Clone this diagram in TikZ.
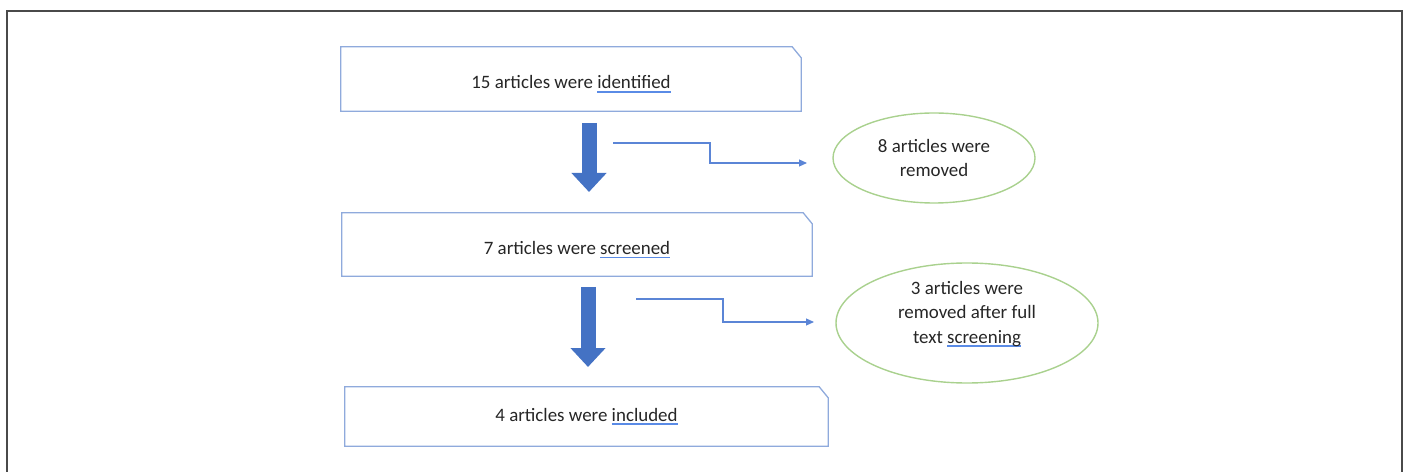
\documentclass[tikz,border=0pt]{standalone}
\usepackage{fontspec}
\setmainfont{Carlito}
\usetikzlibrary{arrows.meta,shapes.geometric}
\definecolor{boxblue}{HTML}{8FAADC}
\definecolor{arrblue}{HTML}{4472C4}
\definecolor{linblue}{HTML}{5B85D6}
\definecolor{elgreen}{HTML}{A9D18E}
\definecolor{ulblue}{HTML}{5A8BE6}
\definecolor{txt}{HTML}{262626}
\definecolor{frame}{HTML}{4A4A4A}
\newcommand{\blueul}[1]{\setbox0\hbox{#1}\rlap{\textcolor{ulblue}{\rule[-3.8pt]{\wd0}{1.6pt}}}\box0}
\tikzset{
  box/.style={draw=none, inner sep=0pt, text=txt, font=\fontsize{19}{23}\selectfont},
  lowtext/.style={text height=20pt, text depth=0pt},
  boxline/.style={draw=boxblue, line width=1.3bp},
  bigarrow/.style={draw=arrblue, line width=15bp, -{Triangle[width=34bp,length=19bp]}, arrblue},
  elbow/.style={draw=linblue, line width=1.1bp, -{Triangle[width=7bp,length=8bp]}},
  oval/.style={ellipse, draw=elgreen, line width=1.4bp, inner sep=0pt},
  ovaltext/.style={text=txt, align=center, font=\fontsize{19}{24.5}\selectfont}
}
\begin{document}
\begin{tikzpicture}[x=1bp,y=-1bp]
\useasboundingbox (0,0) rectangle (1407,472);
% outer frame
\draw[frame, line width=1.6bp] (7,472) -- (7,11) -- (1402,11) -- (1402,472);

% boxes
\node[box, lowtext, minimum width=460bp, minimum height=64bp] (b1) at (571,79) {15 articles were \blueul{identified}};
\node[box, lowtext, minimum width=470bp, minimum height=63bp] (b2) at (577,244.5) {7 articles were \blueul{screened}};
\node[box, minimum width=483bp, minimum height=59bp] (b3) at (586.5,416.5) {4 articles were \blueul{included}};
\foreach \b in {b1,b2,b3}{
  \draw[boxline] (\b.south west) -- (\b.north west) -- ([xshift=-9bp]\b.north east) -- ([yshift=-11bp]\b.north east) -- (\b.south east) -- cycle;
}

% ellipses
\node[oval, minimum width=202bp, minimum height=90bp,
      label={[ovaltext]center:{8 articles were\\removed}}] (r1) at (934,158) {};
\node[oval, minimum width=262bp, minimum height=120bp,
      label={[ovaltext,yshift=9bp]center:{3 articles were\\removed after full\\text \blueul{screening}}}] (r2) at (967,323) {};

% big down arrows
\coordinate (a1s) at (589,123);
\coordinate (a1e) at (589,192);
\coordinate (a2s) at (588,287);
\coordinate (a2e) at (588,367);
\draw[bigarrow] (a1s) -- (a1e);
\draw[bigarrow] (a2s) -- (a2e);

% elbow connectors
\coordinate (e1s) at (613,143);
\coordinate (e1e) at (807,163);
\coordinate (e2s) at (636,299);
\coordinate (e2e) at (814,322);
\draw[elbow] (e1s) -- (710,143) -- (710,163) -- (e1e);
\draw[elbow] (e2s) -- (723,299) -- (723,322) -- (e2e);
\end{tikzpicture}
\end{document}
